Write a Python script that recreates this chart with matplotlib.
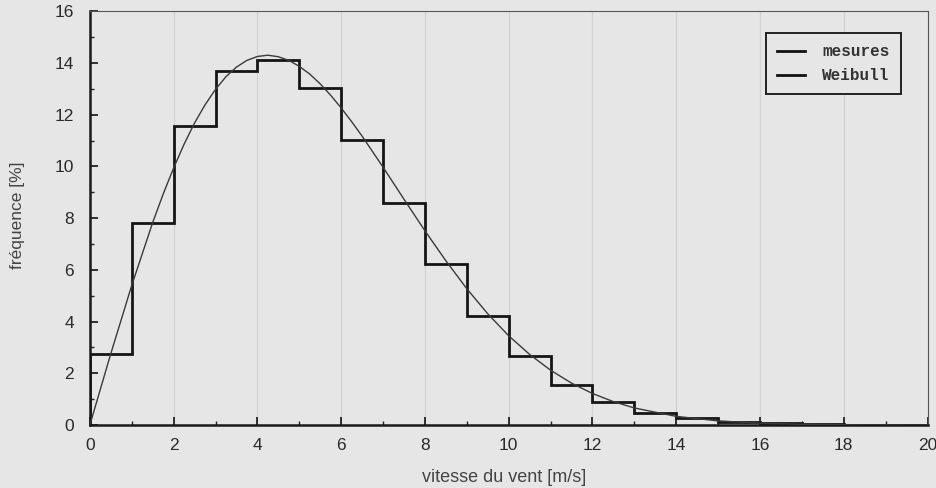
import matplotlib
matplotlib.use("Agg")
import matplotlib.pyplot as plt
from matplotlib.lines import Line2D

# Measured frequency per 1 m/s bin (%)
bin_edges = list(range(0, 21))
mesures = [2.73, 7.8, 11.55, 13.7, 14.13, 13.05, 11.03, 8.58, 6.22, 4.22,
           2.66, 1.55, 0.88, 0.45, 0.28, 0.12, 0.07, 0.04, 0.02, 0.01]

# Weibull fit curve
weib_x = [0, 0.5, 1, 1.5, 1.75, 2, 2.25, 2.5, 2.75, 3, 3.25, 3.5, 3.75, 4, 4.25,
          4.5, 4.75, 5, 5.25, 5.5, 5.75, 6, 6.25, 6.5, 7, 7.5, 8,
          8.5, 9, 9.5, 10, 10.5, 11, 11.5, 12, 12.5, 13, 14, 15, 16, 17, 18, 19, 20]
weib_y = [0, 2.76, 5.40, 7.83, 8.93, 9.94, 10.86, 11.68, 12.38, 12.98, 13.47,
          13.84, 14.10, 14.25, 14.30, 14.24, 14.10, 13.87, 13.57, 13.19, 12.75,
          12.26, 11.73, 11.17, 9.97, 8.73, 7.51, 6.35, 5.27, 4.30, 3.45, 2.73,
          2.12, 1.62, 1.22, 0.905, 0.66, 0.336, 0.161, 0.073, 0.031, 0.012, 0.005, 0.002]

x_ticks = [0, 2, 4, 6, 8, 10, 12, 14, 16, 18, 20]
y_ticks = [0, 2, 4, 6, 8, 10, 12, 14, 16]

bg = "#e6e6e6"
fig = plt.figure(figsize=(9.36, 4.88), dpi=100, facecolor=bg)
ax = fig.add_axes([0.096, 0.129, 0.895, 0.848], facecolor=bg)

tickfont = ["Liberation Sans Narrow", "Liberation Sans", "DejaVu Sans"]

for xv in x_ticks[1:-1]:
    ax.axvline(xv, color="#d2d2d2", lw=0.9, zorder=0)

ax.stairs(mesures, bin_edges, baseline=0, color="#151515", lw=2.0, zorder=3)
ax.plot(weib_x, weib_y, color="#3a3a3a", lw=1.0, zorder=4)

ax.set_xlim(0, 20)
ax.set_ylim(0, 16)
ax.set_xticks(x_ticks)
ax.set_yticks(y_ticks)
ax.set_xticks(range(0, 21), minor=True)
ax.set_yticks(range(0, 17), minor=True)
ax.tick_params(which="major", direction="in", length=6, width=1.3, color="#222",
               labelsize=12.5, labelcolor="#2a2a2a")
ax.tick_params(axis="x", which="major", pad=9)
ax.tick_params(axis="y", which="major", pad=11.5)
ax.tick_params(which="minor", direction="in", length=3, width=1.0, color="#222")
for lab in ax.get_xticklabels() + ax.get_yticklabels():
    lab.set_family(tickfont)

ax.spines["left"].set_linewidth(1.8)
ax.spines["bottom"].set_linewidth(1.8)
ax.spines["left"].set_color("#1a1a1a")
ax.spines["bottom"].set_color("#1a1a1a")
ax.spines["top"].set_linewidth(0.8)
ax.spines["right"].set_linewidth(0.8)
ax.spines["top"].set_color("#555")
ax.spines["right"].set_color("#555")

fig.text(18 / 936, 1 - 215 / 488, "fréquence [%]", family=tickfont, fontsize=12.5,
         color="#444", rotation=90, ha="center", va="center")
fig.text(504 / 936, 1 - 477 / 488, "vitesse du vent [m/s]", family=tickfont,
         fontsize=13, color="#444", ha="center", va="center")

handles = [Line2D([], [], color="#111", lw=2.0), Line2D([], [], color="#111", lw=2.0)]
leg = ax.legend(handles, ["mesures", "Weibull"], loc="upper right",
                bbox_to_anchor=(0.968, 0.947), frameon=True, fancybox=False,
                edgecolor="#222", facecolor=bg, framealpha=1,
                prop={"family": ["Liberation Mono", "DejaVu Sans Mono"], "size": 11.5, "weight": "bold"},
                handlelength=1.8, borderpad=0.7, labelspacing=0.55, handletextpad=1.05,
                borderaxespad=0)
leg.get_frame().set_linewidth(1.4)
for t in leg.get_texts():
    t.set_color("#333")

fig.savefig("out.png", dpi=100, facecolor=bg)
